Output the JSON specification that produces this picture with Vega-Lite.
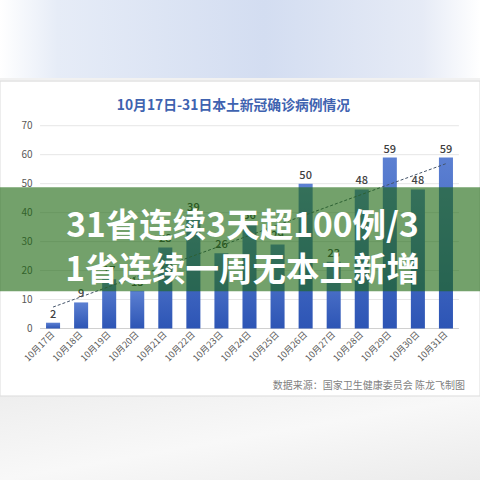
{
  "$schema": "https://vega.github.io/schema/vega-lite/v6.json",
  "width": 480,
  "height": 480,
  "autosize": "none",
  "padding": 0,
  "background": "#ffffff",
  "datasets": {
    "cases": [
      {"日期": "10月17日", "病例": 2},
      {"日期": "10月18日", "病例": 9},
      {"日期": "10月19日", "病例": 17},
      {"日期": "10月20日", "病例": 13},
      {"日期": "10月21日", "病例": 28},
      {"日期": "10月22日", "病例": 39},
      {"日期": "10月23日", "病例": 26},
      {"日期": "10月24日", "病例": 36},
      {"日期": "10月25日", "病例": 29},
      {"日期": "10月26日", "病例": 50},
      {"日期": "10月27日", "病例": 23},
      {"日期": "10月28日", "病例": 48},
      {"日期": "10月29日", "病例": 59},
      {"日期": "10月30日", "病例": 48},
      {"日期": "10月31日", "病例": 59}
    ],
    "trend": [
      {"日期": "10月17日", "趋势": 7.4},
      {"日期": "10月31日", "趋势": 56.9}
    ],
    "grid": [
      {"刻度": 10}, {"刻度": 20}, {"刻度": 30}, {"刻度": 40},
      {"刻度": 50}, {"刻度": 60}, {"刻度": 70}
    ],
    "overlay": [
      {"文字": "31省连续3天超100例/3", "行": 34.9},
      {"文字": "1省连续一周无本土新增", "行": 19.7}
    ],
    "title": [{"文字": "10月17日-31日本土新冠确诊病例情况"}],
    "source": [{"文字": "数据来源：国家卫生健康委员会    陈龙飞制图"}],
    "one": [{}]
  },
  "resolve": {"scale": {"x": "shared", "y": "shared"}},
  "layer": [
    {
      "data": {"name": "one"},
      "mark": {
        "type": "rect",
        "color": {
          "gradient": "linear",
          "x1": 0, "y1": 0, "x2": 1, "y2": 0,
          "stops": [
            {"offset": 0, "color": "#ffffff"},
            {"offset": 0.12, "color": "#e6ecf7"},
            {"offset": 0.55, "color": "#d3ddf1"},
            {"offset": 0.88, "color": "#e6ebf6"},
            {"offset": 1, "color": "#ffffff"}
          ]
        }
      },
      "encoding": {
        "y": {"datum": 113.4, "type": "quantitative", "title": null},
        "y2": {"datum": 86.5}
      }
    },
    {
      "data": {"name": "one"},
      "mark": {"type": "rect", "fill": "#f1f1f1"},
      "encoding": {
        "y": {"datum": 86.5, "type": "quantitative", "title": null},
        "y2": {"datum": 85.4}
      }
    },
    {
      "data": {"name": "one"},
      "mark": {
        "type": "rect",
        "color": {
          "gradient": "linear",
          "x1": 0, "y1": 0, "x2": 1, "y2": 1,
          "stops": [
            {"offset": 0, "color": "#eeeeee"},
            {"offset": 0.5, "color": "#f8f8f8"},
            {"offset": 1, "color": "#ebebeb"}
          ]
        }
      },
      "encoding": {
        "y": {"datum": -23.3, "type": "quantitative", "title": null},
        "y2": {"datum": -52.3}
      }
    },
    {
      "data": {"name": "one"},
      "mark": {"type": "rect", "fillOpacity": 0, "stroke": "#dcdcdc", "strokeWidth": 1},
      "encoding": {
        "y": {"datum": 85.4, "type": "quantitative", "title": null},
        "y2": {"datum": -23.3}
      }
    },
    {
      "data": {"name": "grid"},
      "mark": {"type": "rule", "color": "#e6e6e6", "strokeWidth": 1, "xOffset": -13, "x2Offset": 13},
      "encoding": {
        "x": {"datum": "10月17日", "type": "nominal", "title": null},
        "x2": {"datum": "10月31日"},
        "y": {"field": "刻度", "type": "quantitative", "title": null}
      }
    },
    {
      "data": {"name": "one"},
      "mark": {"type": "rule", "color": "#d0d0d0", "strokeWidth": 1, "xOffset": -13, "x2Offset": 13},
      "encoding": {
        "x": {"datum": "10月17日", "type": "nominal", "title": null},
        "x2": {"datum": "10月31日"},
        "y": {"datum": 0, "type": "quantitative", "title": null}
      }
    },
    {
      "data": {"name": "cases"},
      "mark": {
        "type": "bar",
        "color": {
          "gradient": "linear",
          "x1": 0, "y1": 0, "x2": 0, "y2": 1,
          "stops": [
            {"offset": 0, "color": "#5c80d2"},
            {"offset": 1, "color": "#2d55b5"}
          ]
        }
      },
      "encoding": {
        "x": {
          "field": "日期",
          "type": "nominal",
          "sort": null,
          "title": null,
          "scale": {
            "type": "band",
            "domain": ["10月17日", "10月18日", "10月19日", "10月20日", "10月21日", "10月22日", "10月23日", "10月24日", "10月25日", "10月26日", "10月27日", "10月28日", "10月29日", "10月30日", "10月31日"],
            "range": [32, 467],
            "paddingInner": 0.5,
            "paddingOuter": 0.5
          },
          "axis": {"labelAngle": -45, "labelAlign": "right", "labelBaseline": "middle"}
        },
        "y": {
          "field": "病例",
          "type": "quantitative",
          "title": null,
          "scale": {"domain": [-52.3, 113.4], "nice": false, "zero": false},
          "axis": {"values": [0, 10, 20, 30, 40, 50, 60, 70]}
        },
        "y2": {"datum": 0}
      }
    },
    {
      "data": {"name": "cases"},
      "mark": {"type": "text", "baseline": "bottom", "dy": -3, "font": "Noto Sans CJK SC", "fontSize": 11, "fontWeight": 500, "color": "#404040"},
      "encoding": {
        "x": {"field": "日期", "type": "nominal", "sort": null, "title": null},
        "y": {"field": "病例", "type": "quantitative", "title": null},
        "text": {"field": "病例"}
      }
    },
    {
      "data": {"name": "trend"},
      "mark": {"type": "line", "color": "#44546a", "strokeWidth": 1, "strokeDash": [3, 2]},
      "encoding": {
        "x": {"field": "日期", "type": "nominal", "sort": null, "title": null},
        "y": {"field": "趋势", "type": "quantitative", "title": null}
      }
    },
    {
      "data": {"name": "one"},
      "mark": {"type": "rect", "fill": "#1d6710", "opacity": 0.62},
      "encoding": {
        "y": {"datum": 48.8, "type": "quantitative", "title": null},
        "y2": {"datum": 12.9}
      }
    },
    {
      "data": {"name": "overlay"},
      "mark": {"type": "text", "align": "center", "baseline": "middle", "dx": -7, "font": "Noto Sans CJK SC", "fontSize": 33.5, "fontWeight": "bold", "color": "#ffffff"},
      "encoding": {
        "x": {"datum": "10月24日", "type": "nominal", "title": null},
        "y": {"field": "行", "type": "quantitative", "title": null},
        "text": {"field": "文字"}
      }
    },
    {
      "data": {"name": "title"},
      "mark": {"type": "text", "align": "center", "baseline": "middle", "dx": -16, "font": "Noto Sans CJK SC", "fontSize": 13.8, "fontWeight": "bold", "color": "#3f63b0"},
      "encoding": {
        "x": {"datum": "10月24日", "type": "nominal", "title": null},
        "y": {"datum": 76.8, "type": "quantitative", "title": null},
        "text": {"field": "文字"}
      }
    },
    {
      "data": {"name": "source"},
      "mark": {"type": "text", "align": "right", "baseline": "middle", "dx": 19, "font": "Noto Sans CJK SC", "fontSize": 10, "color": "#7f7f7f"},
      "encoding": {
        "x": {"datum": "10月31日", "type": "nominal", "title": null},
        "y": {"datum": -19.7, "type": "quantitative", "title": null},
        "text": {"field": "文字"}
      }
    }
  ],
  "config": {
    "view": {"stroke": null},
    "font": "Noto Sans CJK SC",
    "axis": {
      "zindex": 1,
      "grid": false,
      "domain": false,
      "ticks": false,
      "labelPadding": 4,
      "labelFont": "Noto Sans CJK SC",
      "labelColor": "#595959"
    },
    "axisX": {
      "orient": "bottom",
      "offset": -151.5,
      "labelFontSize": 9
    },
    "axisY": {
      "orient": "left",
      "offset": -36,
      "labelFontSize": 10
    }
  }
}
